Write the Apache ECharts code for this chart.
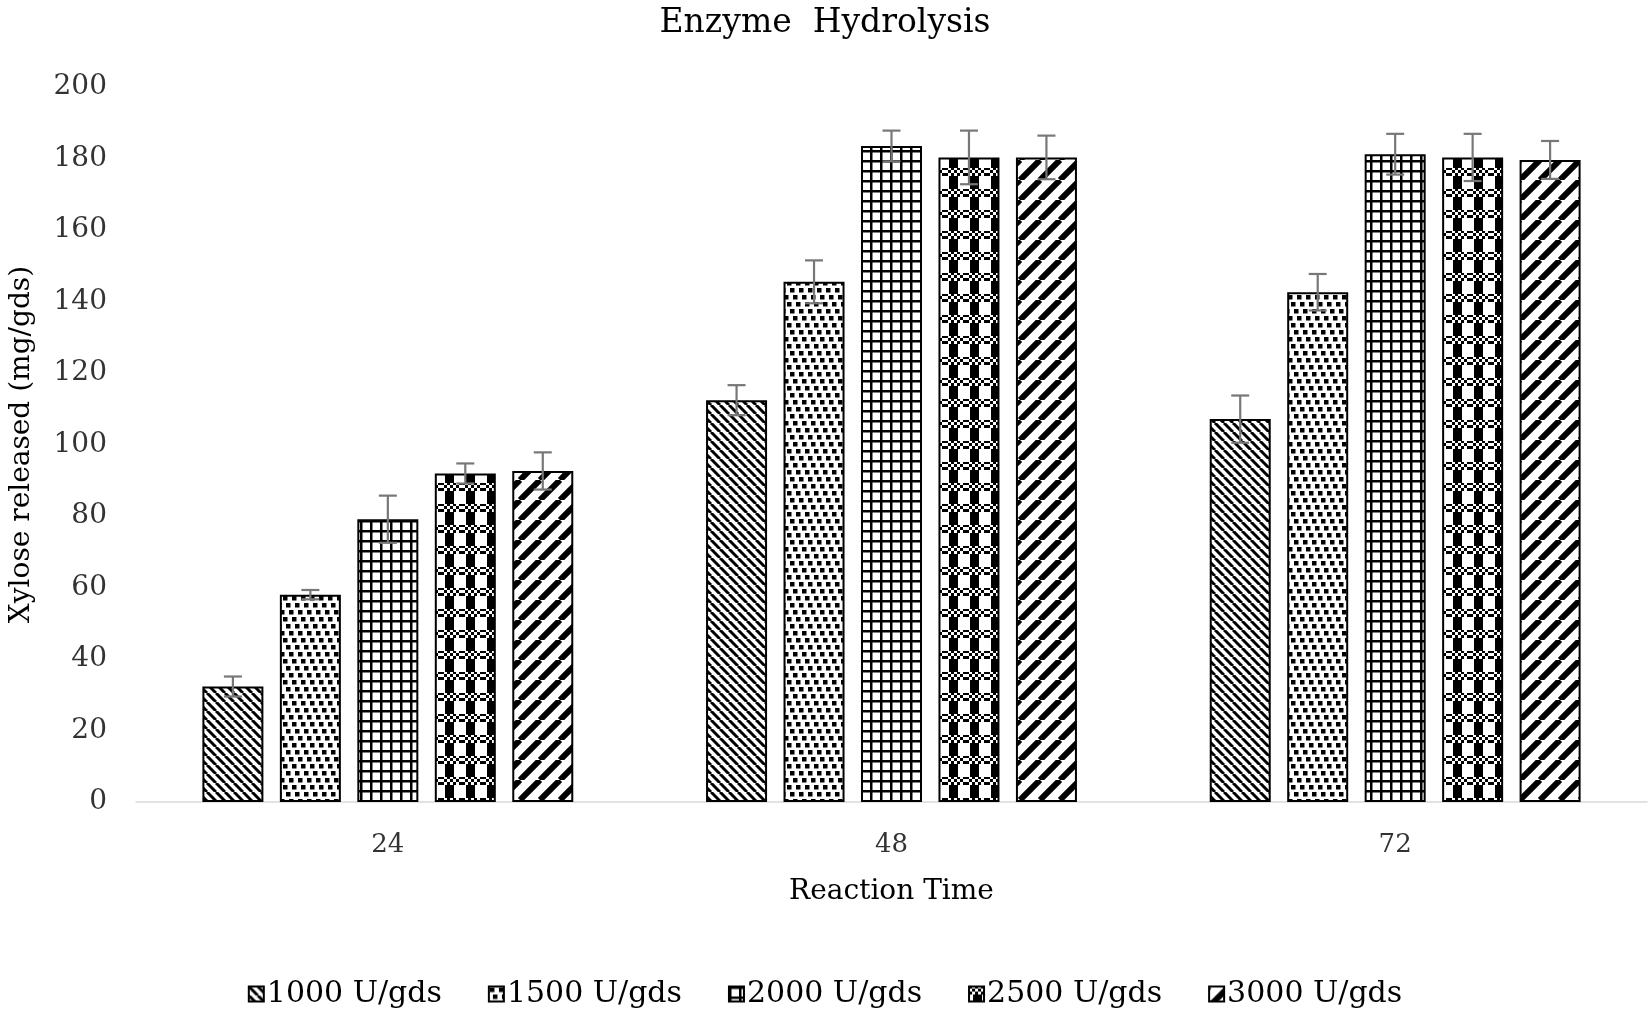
<!doctype html>
<html>
<head>
<meta charset="utf-8">
<script src="https://cdn.jsdelivr.net/npm/echarts@6/dist/echarts.min.js"></script>
<style>
* { margin: 0px; padding: 0px; }
#chart { width: 1650px; height: 1013px; background: #fff; }
</style>
</head>
<body>
<div id="chart"></div>
<script>
// reaction time categories and enzyme loadings
var times = ['24', '48', '72'];
var doses = ['1000 U/gds', '1500 U/gds', '2000 U/gds', '2500 U/gds', '3000 U/gds'];

// xylose released (mg/gds), one array per loading
var xylose1000 = [32.3, 112.4, 107.1];
var xylose1500 = [58.0, 145.5, 142.6];
var xylose2000 = [79.1, 183.5, 181.2];
var xylose2500 = [91.9, 180.3, 180.3];
var xylose3000 = [92.6, 180.3, 179.6];

// error bar half lengths
var err1000 = [2.8, 4.2, 6.6];
var err1500 = [1.3, 6.0, 5.1];
var err2000 = [6.6, 4.3, 5.7];
var err2500 = [2.8, 7.5, 6.6];
var err3000 = [5.2, 6.1, 5.3];

var yTicks = [0, 200, 20]; // min, max, interval

var values = [xylose1000, xylose1500, xylose2000, xylose2500, xylose3000];
var errors = [err1000, err1500, err2000, err2500, err3000];

var FONT = 'DejaVu Serif';
var BAR_W = 61;
var BAR_GAP = 0.27;

// hatch fills drawn on small canvases
function tile(w, h, draw) {
	var c = document.createElement('canvas');
	c.width = w; c.height = h;
	var ctx = c.getContext('2d');
	ctx.fillStyle = '#fff';
	ctx.fillRect(0, 0, w, h);
	ctx.fillStyle = '#000';
	ctx.strokeStyle = '#000';
	draw(ctx);
	return c;
}
function stripes(s, lw, back) {
	return tile(s, s, function (ctx) {
		ctx.lineWidth = lw;
		for (var o = -s; o <= s; o += s) {
			ctx.beginPath();
			if (back) { ctx.moveTo(o, 0); ctx.lineTo(o + s, s); }
			else { ctx.moveTo(o, s); ctx.lineTo(o + s, 0); }
			ctx.stroke();
		}
	});
}
var patterns = [
	stripes(9, 3, true),
	tile(9, 21, function (ctx) {	// dots
		ctx.fillRect(1, 1, 4.5, 4.5);
		ctx.fillRect(4, 8, 4.5, 4.5);
		ctx.fillRect(7, 15, 4.5, 4.5);
		ctx.fillRect(-2, 15, 4.5, 4.5);
	}),
	tile(10, 10, function (ctx) {	// grid
		ctx.fillRect(0, 0, 10, 2.5);
		ctx.fillRect(0, 0, 2.5, 10);
	}),
	tile(21, 21, function (ctx) {	// plaid
		ctx.fillRect(4, 0, 9, 21);
		ctx.fillStyle = '#fff';
		ctx.fillRect(0, 0, 21, 8);
		ctx.fillStyle = '#000';
		for (var i = 0; i < 7; i++) {
			for (var j = 0; j < 3; j++) {
				if ((i + j) % 2 == 0) ctx.fillRect(i * 3, j * 3 - 1, 3, 3);
			}
		}
	}),
	stripes(20, 6, false)
];

var series = [];
doses.forEach(function (name, k) {
	series.push({
		name: name,
		type: 'bar',
		barWidth: BAR_W,
		barGap: (BAR_GAP * 100) + '%',
		itemStyle: {
			color: { image: patterns[k], repeat: 'repeat' },
			borderColor: '#000',
			borderWidth: 2
		},
		data: values[k]
	});
});
doses.forEach(function (name, k) {
	series.push({
		type: 'custom',
		z: 5,
		silent: true,
		data: values[k].map(function (v, i) { return [i, v, errors[k][i]]; }),
		renderItem: function (params, api) {
			var c = api.value(0), v = api.value(1), e = api.value(2);
			var gap = BAR_W * BAR_GAP;
			var groupW = doses.length * BAR_W + (doses.length - 1) * gap;
			var mid = api.coord([c, v]);
			var x = mid[0] - groupW / 2 + k * (BAR_W + gap) + BAR_W / 2;
			var hi = api.coord([c, v + e])[1];
			var lo = api.coord([c, v - e])[1];
			var st = { stroke: '#777', lineWidth: 2.2 };
			return {
				type: 'group',
				children: [
					{ type: 'line', shape: { x1: x, y1: hi, x2: x, y2: lo }, style: st },
					{ type: 'line', shape: { x1: x - 9, y1: hi, x2: x + 9, y2: hi }, style: st },
					{ type: 'line', shape: { x1: x - 9, y1: lo, x2: x + 9, y2: lo }, style: st }
				]
			};
		}
	});
});

var myChart = echarts.init(document.getElementById('chart'));
myChart.setOption({
	animation: false,
	title: {
		text: 'Enzyme  Hydrolysis',
		left: 'center',
		top: 2,
		textStyle: { fontFamily: FONT, fontSize: 33, fontWeight: 'normal', color: '#000' }
	},
	legend: {
		data: doses,
		left: 'center',
		top: 974,
		icon: 'rect',
		itemWidth: 15,
		itemHeight: 15,
		itemGap: 46,
		textStyle: { fontFamily: FONT, fontSize: 30, color: '#000', padding: [0, 0, 0, -2] }
	},
	grid: { left: 131, right: 3, top: 87, bottom: 211 },
	xAxis: {
		type: 'category',
		data: times,
		name: 'Reaction Time',
		nameLocation: 'middle',
		nameGap: 76,
		nameTextStyle: { fontFamily: FONT, fontSize: 28, color: '#000' },
		axisLine: { lineStyle: { color: '#d9d9d9', width: 1.5 } },
		axisTick: { show: false },
		axisLabel: { fontFamily: FONT, fontSize: 26, color: '#333', margin: 30 }
	},
	yAxis: {
		type: 'value',
		min: yTicks[0],
		max: yTicks[1],
		interval: yTicks[2],
		name: 'Xylose released (mg/gds)',
		nameLocation: 'middle',
		nameGap: 100,
		nameTextStyle: { fontFamily: FONT, fontSize: 28, color: '#000' },
		axisLine: { show: false },
		axisTick: { show: false },
		splitLine: { show: false },
		axisLabel: { fontFamily: FONT, fontSize: 28, color: '#333', margin: 29 }
	},
	series: series
});
</script>
</body>
</html>
